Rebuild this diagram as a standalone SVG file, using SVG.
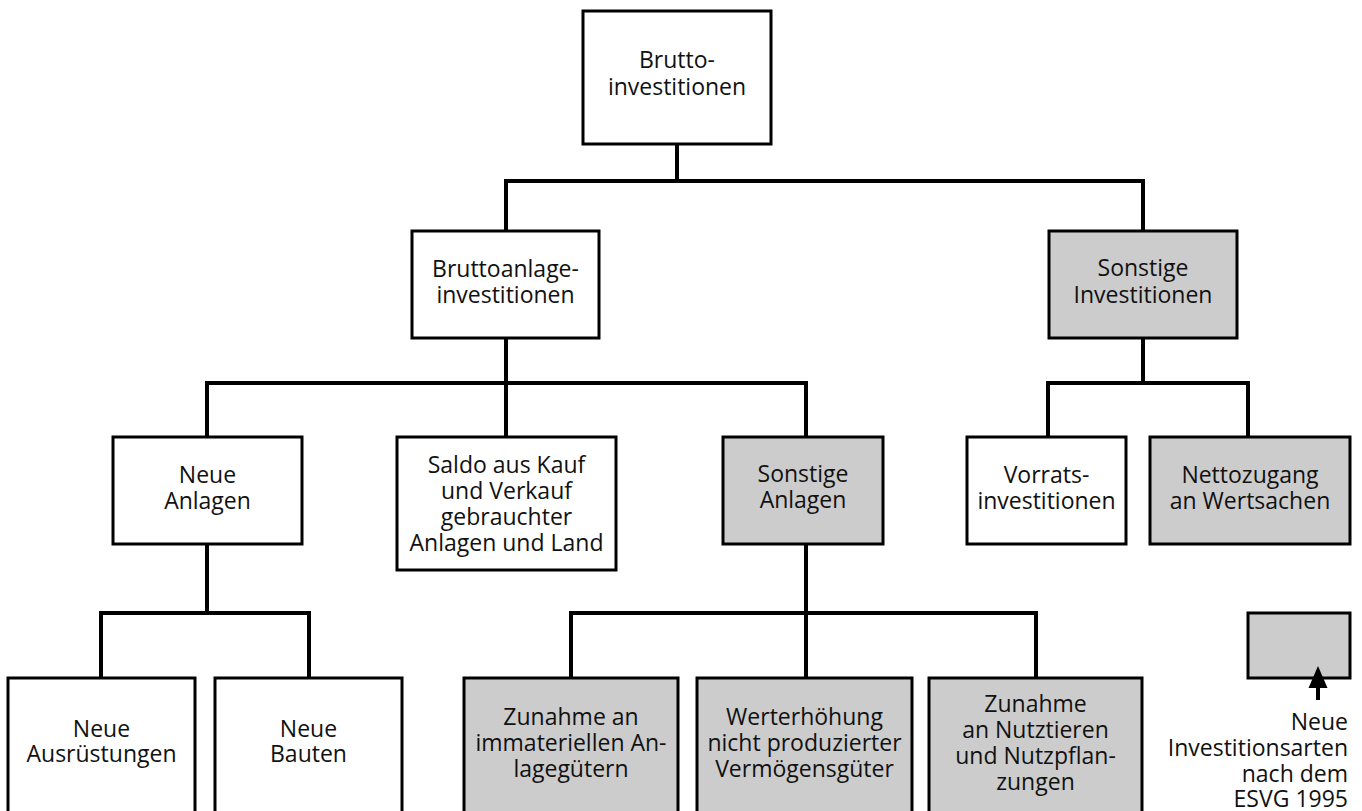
<svg xmlns="http://www.w3.org/2000/svg" width="1362" height="811" viewBox="0 0 1362 811">
<style>
.box{fill:#ffffff;stroke:#000;stroke-width:3}
.new{fill:#cccccc;stroke:#000;stroke-width:3}
.con{fill:none;stroke:#000;stroke-width:4;stroke-linejoin:miter;stroke-linecap:butt}
text{font-family:"Open Sans","DejaVu Sans",sans-serif;font-size:23px;fill:#111;text-anchor:middle}
.r{text-anchor:end}
</style>
<rect width="1362" height="811" fill="#ffffff"/>
<g id="connectors">
<path class="con" d="M677,144 V181"/>
<path class="con" d="M506,231 V181 H1143 V231"/>
<path class="con" d="M506,338 V437"/>
<path class="con" d="M207,437 V383 H806 V437"/>
<path class="con" d="M1143,338 V383"/>
<path class="con" d="M1048,437 V383 H1248 V437"/>
<path class="con" d="M207,544 V613"/>
<path class="con" d="M101,678 V613 H309 V678"/>
<path class="con" d="M806,544 V678"/>
<path class="con" d="M571,678 V613 H1036 V678"/>
</g>
<g id="brutto">
<rect class="box" x="583" y="11" width="188" height="133"/>
<text x="677" y="68">Brutto-</text>
<text x="677" y="95">investitionen</text>
</g>
<g id="bruttoanlage">
<rect class="box" x="412" y="231" width="187" height="107"/>
<text x="505.5" y="277">Bruttoanlage-</text>
<text x="505.5" y="303">investitionen</text>
</g>
<g id="sonstige-investitionen">
<rect class="new" x="1049" y="231" width="188" height="107"/>
<text x="1143" y="276">Sonstige</text>
<text x="1143" y="303">Investitionen</text>
</g>
<g id="neue-anlagen">
<rect class="box" x="113" y="437" width="189" height="107"/>
<text x="207.5" y="483">Neue</text>
<text x="207.5" y="509">Anlagen</text>
</g>
<g id="saldo">
<rect class="box" x="397" y="437" width="219" height="133"/>
<text x="506.5" y="473">Saldo aus Kauf</text>
<text x="506.5" y="499">und Verkauf</text>
<text x="506.5" y="525">gebrauchter</text>
<text x="506.5" y="551">Anlagen und Land</text>
</g>
<g id="sonstige-anlagen">
<rect class="new" x="723" y="437" width="160" height="107"/>
<text x="803" y="482">Sonstige</text>
<text x="803" y="508">Anlagen</text>
</g>
<g id="vorrats">
<rect class="box" x="967" y="437" width="159" height="107"/>
<text x="1046.5" y="483">Vorrats-</text>
<text x="1046.5" y="509">investitionen</text>
</g>
<g id="nettozugang">
<rect class="new" x="1150" y="437" width="200" height="107"/>
<text x="1250" y="483">Nettozugang</text>
<text x="1250" y="509">an Wertsachen</text>
</g>
<g id="neue-ausruestungen">
<rect class="box" x="8" y="678" width="187" height="150"/>
<text x="101.5" y="737">Neue</text>
<text x="101.5" y="762">Ausrüstungen</text>
</g>
<g id="neue-bauten">
<rect class="box" x="215" y="678" width="187" height="150"/>
<text x="308.5" y="737">Neue</text>
<text x="308.5" y="762">Bauten</text>
</g>
<g id="immaterielle">
<rect class="new" x="464" y="678" width="214" height="150"/>
<text x="571" y="725">Zunahme an</text>
<text x="571" y="751">immateriellen An-</text>
<text x="571" y="777">lagegütern</text>
</g>
<g id="werterhoehung">
<rect class="new" x="697" y="678" width="215" height="150"/>
<text x="804.5" y="725">Werterhöhung</text>
<text x="804.5" y="751">nicht produzierter</text>
<text x="804.5" y="777">Vermögensgüter</text>
</g>
<g id="nutztiere">
<rect class="new" x="929" y="678" width="213" height="150"/>
<text x="1035.5" y="712">Zunahme</text>
<text x="1035.5" y="738">an Nutztieren</text>
<text x="1035.5" y="764">und Nutzpflan-</text>
<text x="1035.5" y="790">zungen</text>
</g>
<g id="legend">
<rect class="new" x="1248" y="613" width="102" height="65"/>
<path d="M1318,700 V684" stroke="#000" stroke-width="4" fill="none"/>
<polygon points="1318,666 1308.5,688 1327.5,688" fill="#000"/>
<text class="r" x="1348" y="730">Neue</text>
<text class="r" x="1348" y="756">Investitionsarten</text>
<text class="r" x="1348" y="782">nach dem</text>
<text class="r" x="1348" y="807">ESVG 1995</text>
</g>
</svg>
